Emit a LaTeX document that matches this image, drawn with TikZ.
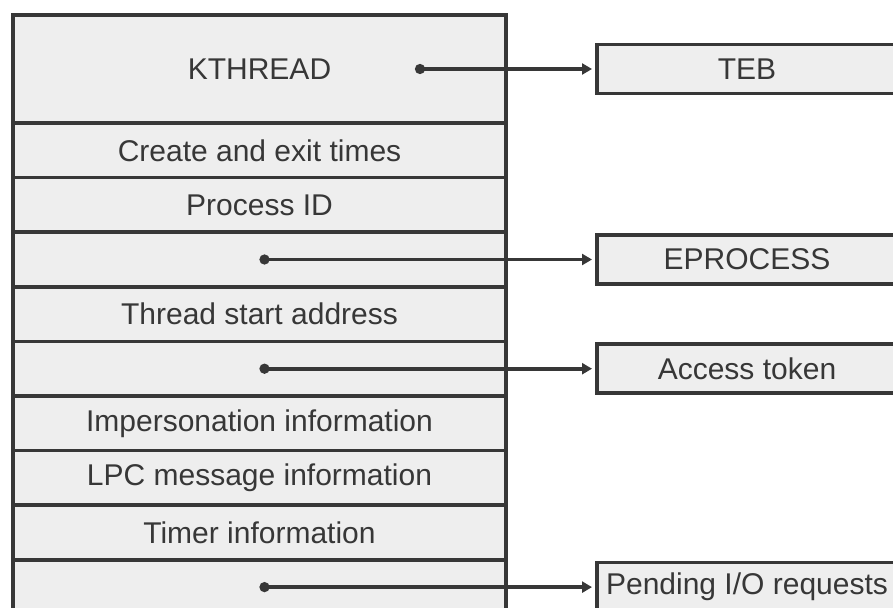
\documentclass[tikz,border=0pt]{standalone}
\usepackage{fontspec}
\setmainfont{Liberation Sans}
\usetikzlibrary{arrows.meta, positioning}
\definecolor{boxgray}{RGB}{238,238,238}
\definecolor{linegray}{RGB}{55,55,55}

\begin{document}
\begin{tikzpicture}[x=1pt, y=-1pt,
    field/.style={rectangle, draw=linegray, fill=boxgray, line width=3.5pt,
      outer sep=0pt, inner sep=0pt, minimum width=493pt, minimum height=54.6pt,
      text=linegray, font=\fontsize{30}{32}\selectfont},
    target/.style={field, minimum width=300pt, minimum height=49pt},
    pointer/.style={{Circle[length=10pt]}-{Triangle[length=10pt, width=11pt]},
      line width=3.8pt, linegray, shorten >=5pt},
  ]
    \useasboundingbox (0,0) rectangle (893,607);

    % thread block fields
    \node[field, minimum height=108pt, anchor=north west] (kthread) at (13,15) {KTHREAD};
    \node[field, below=0pt of kthread] (times) {Create and exit times};
    \node[field, below=0pt of times] (pid) {Process ID};
    \node[field, below=0pt of pid] (procptr) {};
    \node[field, below=0pt of procptr] (start) {Thread start address};
    \node[field, below=0pt of start] (tokenptr) {};
    \node[field, below=0pt of tokenptr] (imperson) {Impersonation information};
    \node[field, below=0pt of imperson] (lpc) {LPC message information};
    \node[field, below=0pt of lpc] (timer) {Timer information};
    \node[field, below=0pt of timer] (irpptr) {};

    % pointed-to structures
    \coordinate (kdot) at (415,69);
    \node[target, anchor=west] (teb) at (597,69) {TEB};
    \node[target, anchor=west] (eprocess) at (procptr.center -| teb.west) {EPROCESS};
    \node[target, anchor=west] (token) at (tokenptr.center -| teb.west) {Access token};
    \node[target, anchor=west] (pending) at (irpptr.center -| teb.west) {Pending I/O requests};

    \draw[pointer] (kdot) -- (teb.west);
    \draw[pointer] (procptr.center) -- (eprocess.west);
    \draw[pointer] (tokenptr.center) -- (token.west);
    \draw[pointer] (irpptr.center) -- (pending.west);
  \end{tikzpicture}
\end{document}
